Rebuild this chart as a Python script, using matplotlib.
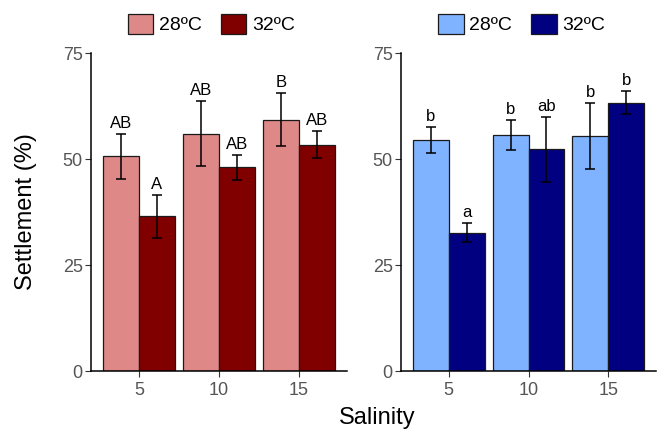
import numpy as np
import matplotlib
matplotlib.use("Agg")
import matplotlib.pyplot as plt

plt.rcParams['font.family'] = ['Liberation Sans', 'DejaVu Sans']

salinity = ['5', '10', '15']
temps = ['28ºC', '32ºC']

# left panel
left_28 = [50.6, 56.0, 59.3]
left_28_err = [5.2, 7.7, 6.2]
left_32 = [36.5, 48.0, 53.4]
left_32_err = [5.1, 3.0, 3.1]
left_28_lab = ['AB', 'AB', 'B']
left_32_lab = ['A', 'AB', 'AB']

# right panel
right_28 = [54.4, 55.6, 55.5]
right_28_err = [3.1, 3.5, 7.8]
right_32 = [32.6, 52.3, 63.3]
right_32_err = [2.2, 7.7, 2.8]
right_28_lab = ['b', 'b', 'b']
right_32_lab = ['a', 'ab', 'b']

W, H = 664, 433
fig = plt.figure(figsize=(W / 100, H / 100), dpi=100)


def panel(rect, vals, errs, labs, colors, leg_x):
    ax = fig.add_axes(rect)
    x = np.arange(len(salinity))
    w = 0.45
    handles = []
    for i, (v, e, lb, c) in enumerate(zip(vals, errs, labs, colors)):
        pos = x + (i - 0.5) * w
        b = ax.bar(pos, v, width=w, color=c, edgecolor='#1a1a1a', linewidth=0.9,
                   label=temps[i], zorder=2)
        handles.append(b)
        ax.errorbar(pos, v, yerr=e, fmt='none', ecolor='black', elinewidth=1.1,
                    capsize=3.5, capthick=1.1, zorder=3)
        for p, vv, ee, t in zip(pos, v, e, lb):
            ax.annotate(t, (p, vv + ee), xytext=(0, 4.3), textcoords='offset points',
                        ha='center', va='baseline', fontsize=12, color='black')
    ax.set_xlim(-0.6, 2.6)
    ax.set_ylim(0, 75)
    ax.set_yticks([0, 25, 50, 75])
    ax.set_xticks(x)
    ax.set_xticklabels(salinity)
    for s in ['top', 'right']:
        ax.spines[s].set_visible(False)
    for s in ['left', 'bottom']:
        ax.spines[s].set_linewidth(1.1)
        ax.spines[s].set_color('black')
    ax.tick_params(axis='both', labelsize=13, labelcolor='#555555', color='#333333',
                   length=4, width=0.8)
    ax.tick_params(axis='y', pad=2)
    ax.tick_params(axis='x', pad=4)
    ax.legend(handles=handles, ncol=2, loc='center', bbox_to_anchor=(leg_x, 1.0 + 29 / 318),
              frameon=False, fontsize=14, handlelength=1.3, handleheight=1.25,
              handletextpad=0.28, columnspacing=1.0, borderpad=0, borderaxespad=0)
    return ax


panel([91 / W, 1 - 371 / H, 256 / W, 318 / H],
      [left_28, left_32], [left_28_err, left_32_err], [left_28_lab, left_32_lab],
      ['#de8888', '#800000'], 0.47)
panel([401 / W, 1 - 371 / H, 255 / W, 318 / H],
      [right_28, right_32], [right_28_err, right_32_err], [right_28_lab, right_32_lab],
      ['#80b3ff', '#000080'], 0.473)

fig.text(26 / W, 1 - 212 / H, 'Settlement (%)', rotation=90, ha='center', va='center',
         fontsize=17)
fig.text(377 / W, 1 - 418 / H, 'Salinity', ha='center', va='center', fontsize=17)

fig.savefig('out.png', dpi=100)
